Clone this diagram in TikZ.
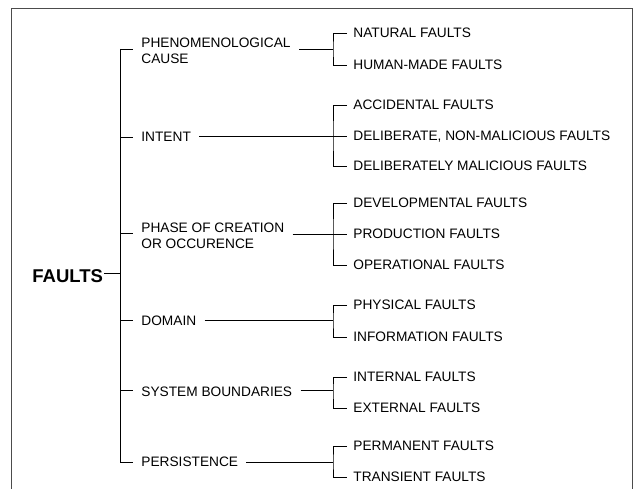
\documentclass[tikz,border=0pt]{standalone}
\usepackage{fontspec}
\setmainfont{Liberation Sans}
\begin{document}
\begin{tikzpicture}[
		x=1pt,y=-1pt,
		line width=0.8pt,
		every node/.style={font=\fontsize{13.7}{15.5}\selectfont, inner ysep=0pt},
		root/.style={anchor=west, inner xsep=1pt, font=\fontsize{18.5}{20}\selectfont\bfseries, text height=13.2pt, text depth=0pt},
		cat/.style={anchor=west, inner xsep=8pt, text height=9.8pt, text depth=0pt},
		cattwo/.style={anchor=north west, inner xsep=8pt, align=left},
		leaf/.style={anchor=west, inner xsep=6pt, text height=9.8pt, text depth=0pt}
		]
		\useasboundingbox (0,0) rectangle (634,489);
		\draw[black!70, line width=1pt] (11,489) -- (11,9) -- (632,9) -- (632,489);

		\node[root] (faults) at (31,276) {FAULTS};

		\node[cattwo] (cause) at (133,38) {PHENOMENOLOGICAL\\CAUSE};
		\node[cat] (intent) at (133,137) {INTENT};
		\node[cattwo] (phase) at (133,223) {PHASE OF CREATION\\OR OCCURENCE};
		\node[cat] (domain) at (133,321) {DOMAIN};
		\node[cat] (boundaries) at (133,392) {SYSTEM BOUNDARIES};
		\node[cat] (persistence) at (133,462) {PERSISTENCE};

		\node[leaf] (natural) at (347,33) {NATURAL FAULTS};
		\node[leaf] (humanmade) at (347,65) {HUMAN-MADE FAULTS};
		\node[leaf] (accidental) at (347,105) {ACCIDENTAL FAULTS};
		\node[leaf] (deliberate) at (347,136) {DELIBERATE, NON-MALICIOUS FAULTS};
		\node[leaf] (malicious) at (347,166) {DELIBERATELY MALICIOUS FAULTS};
		\node[leaf] (developmental) at (347,203) {DEVELOPMENTAL FAULTS};
		\node[leaf] (production) at (347,234) {PRODUCTION FAULTS};
		\node[leaf] (operational) at (347,265) {OPERATIONAL FAULTS};
		\node[leaf] (physical) at (347,305) {PHYSICAL FAULTS};
		\node[leaf] (information) at (347,337) {INFORMATION FAULTS};
		\node[leaf] (internal) at (347,377) {INTERNAL FAULTS};
		\node[leaf] (external) at (347,408) {EXTERNAL FAULTS};
		\node[leaf] (permanent) at (347,446) {PERMANENT FAULTS};
		\node[leaf] (transient) at (347,477) {TRANSIENT FAULTS};

		\coordinate (troot) at (120,273);
		\coordinate (tcause) at (120,49);
		\coordinate (tintent) at (120,137);
		\coordinate (tphase) at (120,233);
		\coordinate (tdomain) at (120,320);
		\coordinate (tboundaries) at (120,390);
		\coordinate (tpersistence) at (120,462);
		\coordinate (bcause) at (333,49);
		\coordinate (bintent) at (333,136);
		\coordinate (bphase) at (333,234);
		\coordinate (bdomain) at (333,320);
		\coordinate (bboundaries) at (333,390);
		\coordinate (bpersistence) at (333,462);

		\draw (faults.east |- troot) -- (troot);
		\draw (tcause) -- (tpersistence);
		\draw (tcause) -- (cause.west |- tcause);
		\draw (tintent) -- (intent.west |- tintent);
		\draw (tphase) -- (phase.west |- tphase);
		\draw (tdomain) -- (domain.west |- tdomain);
		\draw (tboundaries) -- (boundaries.west |- tboundaries);
		\draw (tpersistence) -- (persistence.west |- tpersistence);

		\draw (cause.east |- bcause) -- (bcause);
		\draw (intent.east |- bintent) -- (bintent);
		\draw (phase.east |- bphase) -- (bphase);
		\draw (domain.east |- bdomain) -- (bdomain);
		\draw (boundaries.east |- bboundaries) -- (bboundaries);
		\draw (persistence.east |- bpersistence) -- (bpersistence);

		\draw (natural.west) -| (bcause) |- (humanmade.west);
		\draw (accidental.west) -| (bintent) |- (malicious.west);
		\draw (bintent) -- (deliberate.west);
		\draw (developmental.west) -| (bphase) |- (operational.west);
		\draw (bphase) -- (production.west);
		\draw (physical.west) -| (bdomain) |- (information.west);
		\draw (internal.west) -| (bboundaries) |- (external.west);
		\draw (permanent.west) -| (bpersistence) |- (transient.west);
\end{tikzpicture}
\end{document}
